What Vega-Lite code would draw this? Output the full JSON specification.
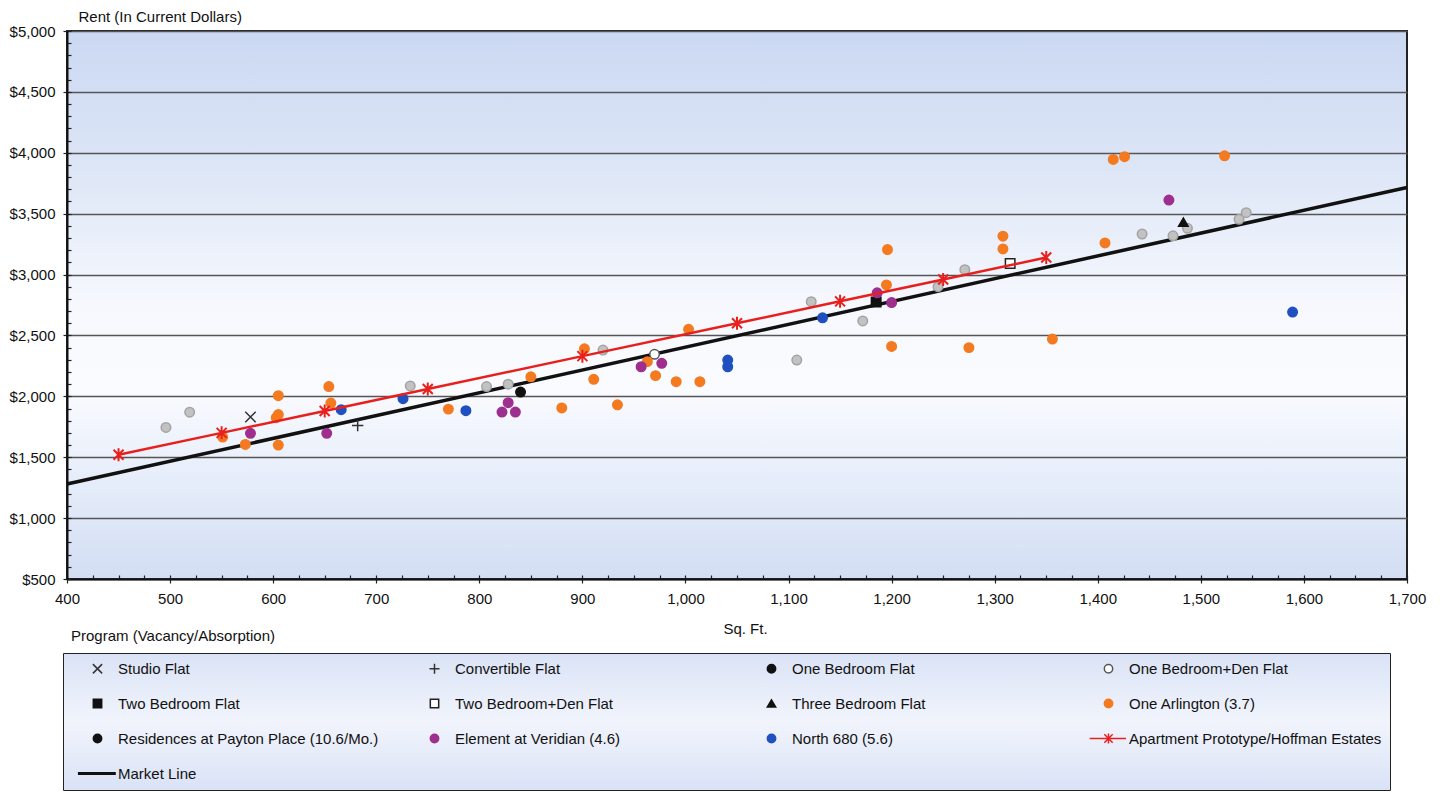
{
  "$schema": "https://vega.github.io/schema/vega-lite/v6.json",
  "width": 1340,
  "height": 548,
  "autosize": {"type": "none"},
  "padding": {"left": 67, "top": 31, "right": 36, "bottom": 213},
  "background": "white",
  "config": {
    "font": "Liberation Sans",
    "view": {
      "fill": {"gradient": "linear", "x1": 0, "y1": 0, "x2": 0, "y2": 1,
        "stops": [
          {"offset": 0, "color": "#cbd8f2"},
          {"offset": 0.25, "color": "#dde6f7"},
          {"offset": 0.5, "color": "#f6f8fd"},
          {"offset": 0.65, "color": "#fafbfe"},
          {"offset": 0.82, "color": "#e6edfa"},
          {"offset": 1, "color": "#d3def4"}
        ]},
      "stroke": "#222222",
      "strokeWidth": 2
    },
    "axis": {
      "labelFont": "Liberation Sans",
      "labelFontSize": 15,
      "labelFontWeight": "normal",
      "labelColor": "#111111",
      "labelFlush": false,
      "titleFont": "Liberation Sans",
      "titleFontSize": 15,
      "titleFontWeight": "normal",
      "titleColor": "#111111",
      "domainColor": "#111111",
      "domainWidth": 2,
      "tickColor": "#222222",
      "tickWidth": 1.2
    },
    "legend": {
      "orient": "none", "legendX": -4, "legendY": 622,
      "direction": "horizontal",
      "columns": 4, "gridAlign": "all",
      "columnPadding": 29, "rowPadding": 18, "padding": 8,
      "symbolSize": 70, "symbolStrokeWidth": 1.5,
      "symbolOffset": 19, "labelOffset": 13,
      "labelFont": "Liberation Sans", "labelFontSize": 15, "labelColor": "#111111", "labelLimit": 400,
      "titleFont": "Liberation Sans", "titleFontSize": 15, "titleFontWeight": "normal", "titleColor": "#111111",
      "titleBaseline": "line-bottom", "titleLineHeight": 48,
      "titlePadding": -15, "titleLimit": 400,
      "strokeColor": "#222222",
      "fillColor": {"value": {"gradient": "linear", "x1": 0, "y1": 0, "x2": 0, "y2": 1,
        "stops": [{"offset": 0, "color": "#dae3f6"}, {"offset": 0.5, "color": "#f1f4fc"}, {"offset": 1, "color": "#d9e2f6"}]}}
    }
  },
  "datasets": {
    "points": [
      {"series": "Studio Flat", "sqft": 578, "rent": 1830},
      {"series": "Convertible Flat", "sqft": 682, "rent": 1760},
      {"series": "One Bedroom Flat", "sqft": 840, "rent": 2035},
      {"series": "One Bedroom+Den Flat", "sqft": 970, "rent": 2345},
      {"series": "Two Bedroom Flat", "sqft": 1185, "rent": 2775},
      {"series": "Two Bedroom+Den Flat", "sqft": 1315, "rent": 3090},
      {"series": "Three Bedroom Flat", "sqft": 1483, "rent": 3430},
      {"series": "One Arlington (3.7)", "sqft": 605, "rent": 2005},
      {"series": "One Arlington (3.7)", "sqft": 654, "rent": 2080},
      {"series": "One Arlington (3.7)", "sqft": 656, "rent": 1945},
      {"series": "One Arlington (3.7)", "sqft": 605, "rent": 1850},
      {"series": "One Arlington (3.7)", "sqft": 603, "rent": 1825},
      {"series": "One Arlington (3.7)", "sqft": 551, "rent": 1665},
      {"series": "One Arlington (3.7)", "sqft": 573, "rent": 1605},
      {"series": "One Arlington (3.7)", "sqft": 605, "rent": 1600},
      {"series": "One Arlington (3.7)", "sqft": 770, "rent": 1895},
      {"series": "One Arlington (3.7)", "sqft": 850, "rent": 2160},
      {"series": "One Arlington (3.7)", "sqft": 880, "rent": 1905},
      {"series": "One Arlington (3.7)", "sqft": 902, "rent": 2390},
      {"series": "One Arlington (3.7)", "sqft": 911, "rent": 2140},
      {"series": "One Arlington (3.7)", "sqft": 934, "rent": 1930},
      {"series": "One Arlington (3.7)", "sqft": 963, "rent": 2285},
      {"series": "One Arlington (3.7)", "sqft": 971, "rent": 2170},
      {"series": "One Arlington (3.7)", "sqft": 991, "rent": 2120},
      {"series": "One Arlington (3.7)", "sqft": 1014, "rent": 2120},
      {"series": "One Arlington (3.7)", "sqft": 1003, "rent": 2550},
      {"series": "One Arlington (3.7)", "sqft": 1200, "rent": 2410},
      {"series": "One Arlington (3.7)", "sqft": 1275, "rent": 2400},
      {"series": "One Arlington (3.7)", "sqft": 1196, "rent": 3205},
      {"series": "One Arlington (3.7)", "sqft": 1195, "rent": 2915},
      {"series": "One Arlington (3.7)", "sqft": 1308, "rent": 3315},
      {"series": "One Arlington (3.7)", "sqft": 1308, "rent": 3210},
      {"series": "One Arlington (3.7)", "sqft": 1407, "rent": 3260},
      {"series": "One Arlington (3.7)", "sqft": 1415, "rent": 3945},
      {"series": "One Arlington (3.7)", "sqft": 1426, "rent": 3968},
      {"series": "One Arlington (3.7)", "sqft": 1523, "rent": 3975},
      {"series": "One Arlington (3.7)", "sqft": 1356, "rent": 2470},
      {"series": "Residences at Payton Place (10.6/Mo.)", "sqft": 496, "rent": 1745},
      {"series": "Residences at Payton Place (10.6/Mo.)", "sqft": 519, "rent": 1870},
      {"series": "Residences at Payton Place (10.6/Mo.)", "sqft": 733, "rent": 2085},
      {"series": "Residences at Payton Place (10.6/Mo.)", "sqft": 807, "rent": 2080},
      {"series": "Residences at Payton Place (10.6/Mo.)", "sqft": 828, "rent": 2100},
      {"series": "Residences at Payton Place (10.6/Mo.)", "sqft": 920, "rent": 2380},
      {"series": "Residences at Payton Place (10.6/Mo.)", "sqft": 1122, "rent": 2777},
      {"series": "Residences at Payton Place (10.6/Mo.)", "sqft": 1108, "rent": 2298},
      {"series": "Residences at Payton Place (10.6/Mo.)", "sqft": 1172, "rent": 2619},
      {"series": "Residences at Payton Place (10.6/Mo.)", "sqft": 1245, "rent": 2900},
      {"series": "Residences at Payton Place (10.6/Mo.)", "sqft": 1271, "rent": 3040},
      {"series": "Residences at Payton Place (10.6/Mo.)", "sqft": 1443, "rent": 3333},
      {"series": "Residences at Payton Place (10.6/Mo.)", "sqft": 1473, "rent": 3318},
      {"series": "Residences at Payton Place (10.6/Mo.)", "sqft": 1487, "rent": 3380},
      {"series": "Residences at Payton Place (10.6/Mo.)", "sqft": 1537, "rent": 3454},
      {"series": "Residences at Payton Place (10.6/Mo.)", "sqft": 1544, "rent": 3508},
      {"series": "Element at Veridian (4.6)", "sqft": 578, "rent": 1696},
      {"series": "Element at Veridian (4.6)", "sqft": 652, "rent": 1696},
      {"series": "Element at Veridian (4.6)", "sqft": 828, "rent": 1948},
      {"series": "Element at Veridian (4.6)", "sqft": 822, "rent": 1871},
      {"series": "Element at Veridian (4.6)", "sqft": 835, "rent": 1871},
      {"series": "Element at Veridian (4.6)", "sqft": 957, "rent": 2243},
      {"series": "Element at Veridian (4.6)", "sqft": 977, "rent": 2271},
      {"series": "Element at Veridian (4.6)", "sqft": 1186, "rent": 2850},
      {"series": "Element at Veridian (4.6)", "sqft": 1200, "rent": 2770},
      {"series": "Element at Veridian (4.6)", "sqft": 1469, "rent": 3612},
      {"series": "North 680 (5.6)", "sqft": 666, "rent": 1890},
      {"series": "North 680 (5.6)", "sqft": 726, "rent": 1981},
      {"series": "North 680 (5.6)", "sqft": 787, "rent": 1882},
      {"series": "North 680 (5.6)", "sqft": 1041, "rent": 2298},
      {"series": "North 680 (5.6)", "sqft": 1041, "rent": 2243},
      {"series": "North 680 (5.6)", "sqft": 1133, "rent": 2645},
      {"series": "North 680 (5.6)", "sqft": 1589, "rent": 2692},
      {"series": "Apartment Prototype/Hoffman Estates", "sqft": 450, "rent": 1520},
      {"series": "Apartment Prototype/Hoffman Estates", "sqft": 550, "rent": 1700},
      {"series": "Apartment Prototype/Hoffman Estates", "sqft": 650, "rent": 1880},
      {"series": "Apartment Prototype/Hoffman Estates", "sqft": 750, "rent": 2060},
      {"series": "Apartment Prototype/Hoffman Estates", "sqft": 900, "rent": 2330},
      {"series": "Apartment Prototype/Hoffman Estates", "sqft": 1050, "rent": 2600},
      {"series": "Apartment Prototype/Hoffman Estates", "sqft": 1150, "rent": 2780},
      {"series": "Apartment Prototype/Hoffman Estates", "sqft": 1250, "rent": 2960},
      {"series": "Apartment Prototype/Hoffman Estates", "sqft": 1350, "rent": 3140}
    ],
    "market": [
      {"sqft": 400, "rent": 1280},
      {"sqft": 1700, "rent": 3715}
    ]
  },
  "encoding": {
    "x": {
      "field": "sqft", "type": "quantitative",
      "scale": {"domain": [400, 1700], "nice": false, "zero": false},
      "axis": null
    },
    "y": {
      "field": "rent", "type": "quantitative",
      "scale": {"domain": [500, 5000], "nice": false, "zero": false},
      "axis": null
    }
  },
  "layer": [
    {
      "data": {"name": "market"},
      "mark": {"type": "line", "color": "#111111", "strokeWidth": 3.5},
      "encoding": {
        "x": {
          "field": "sqft", "type": "quantitative",
          "scale": {"domain": [400, 1700], "nice": false, "zero": false},
          "axis": {
            "orient": "bottom",
            "values": [400, 425, 450, 475, 500, 525, 550, 575, 600, 625, 650, 675, 700, 725, 750, 775, 800, 825, 850, 875, 900, 925, 950, 975, 1000, 1025, 1050, 1075, 1100, 1125, 1150, 1175, 1200, 1225, 1250, 1275, 1300, 1325, 1350, 1375, 1400, 1425, 1450, 1475, 1500, 1525, 1550, 1575, 1600, 1625, 1650, 1675, 1700],
            "labels": false, "domain": false, "grid": false, "tickSize": -4, "title": null
          }
        },
        "y": {
          "field": "rent", "type": "quantitative",
          "scale": {"domain": [500, 5000], "nice": false, "zero": false},
          "axis": {
            "orient": "left",
            "values": [500, 600, 700, 800, 900, 1000, 1100, 1200, 1300, 1400, 1500, 1600, 1700, 1800, 1900, 2000, 2100, 2200, 2300, 2400, 2500, 2600, 2700, 2800, 2900, 3000, 3100, 3200, 3300, 3400, 3500, 3600, 3700, 3800, 3900, 4000, 4100, 4200, 4300, 4400, 4500, 4600, 4700, 4800, 4900, 5000],
            "labels": false, "domain": false, "grid": false, "tickSize": -4, "title": null
          }
        }
      }
    },
    {
      "data": {"name": "points"},
      "transform": [{"filter": "datum.series === 'Residences at Payton Place (10.6/Mo.)'"}],
      "mark": {"type": "point", "shape": "circle", "filled": true, "opacity": 1, "size": 90, "strokeWidth": 1.5, "fill": "#c2c2c2", "stroke": "#a3a3a3"},
      "encoding": {}
    },
    {
      "data": {"name": "points"},
      "transform": [{"filter": "datum.series !== 'Residences at Payton Place (10.6/Mo.)' && datum.series !== 'Apartment Prototype/Hoffman Estates'"}],
      "mark": {"type": "point", "filled": true, "opacity": 1, "size": 90, "strokeWidth": 1.5},
      "encoding": {
        "x": {
          "field": "sqft", "type": "quantitative",
          "scale": {"domain": [400, 1700], "nice": false, "zero": false},
          "axis": {
            "orient": "bottom",
            "values": [400, 500, 600, 700, 800, 900, 1000, 1100, 1200, 1300, 1400, 1500, 1600, 1700],
            "format": ",d", "grid": false, "tickSize": 4, "labelPadding": 8,
            "labelFontWeight": "normal", "titleFontWeight": "normal",
            "title": "Sq. Ft.", "titleX": 678, "titleY": 49, "titleBaseline": "middle", "titleAlign": "center"
          }
        },
        "y": {
          "field": "rent", "type": "quantitative",
          "scale": {"domain": [500, 5000], "nice": false, "zero": false},
          "axis": {
            "orient": "left",
            "values": [500, 1000, 1500, 2000, 2500, 3000, 3500, 4000, 4500, 5000],
            "format": "$,d", "grid": true, "gridColor": "#555555", "gridWidth": 1.6,
            "tickSize": 4, "labelPadding": 8,
            "labelFontWeight": "normal", "titleFontWeight": "normal",
            "title": "Rent (In Current Dollars)", "titleAngle": 0, "titleAlign": "left",
            "titleBaseline": "middle", "titleX": 11, "titleY": -15
          }
        },
        "fill": {
          "field": "series", "type": "nominal",
          "scale": {
            "domain": ["Studio Flat", "Convertible Flat", "One Bedroom Flat", "One Bedroom+Den Flat", "Two Bedroom Flat", "Two Bedroom+Den Flat", "Three Bedroom Flat", "One Arlington (3.7)", "Residences at Payton Place (10.6/Mo.)", "Element at Veridian (4.6)", "North 680 (5.6)", "Apartment Prototype/Hoffman Estates", "Market Line"],
            "range": ["transparent", "transparent", "#111111", "#ffffff", "#111111", "#ffffff", "#111111", "#f47a20", "#111111", "#9e2f8e", "#2050c0", "#e8201d", "#111111"]
          },
          "legend": {"title": "Program (Vacancy/Absorption)"}
        },
        "stroke": {
          "field": "series", "type": "nominal",
          "scale": {
            "domain": ["Studio Flat", "Convertible Flat", "One Bedroom Flat", "One Bedroom+Den Flat", "Two Bedroom Flat", "Two Bedroom+Den Flat", "Three Bedroom Flat", "One Arlington (3.7)", "Residences at Payton Place (10.6/Mo.)", "Element at Veridian (4.6)", "North 680 (5.6)", "Apartment Prototype/Hoffman Estates", "Market Line"],
            "range": ["#333333", "#333333", "#111111", "#555555", "#111111", "#222222", "#111111", "#f47a20", "#111111", "#9e2f8e", "#2050c0", "#e8201d", "#111111"]
          },
          "legend": {"title": "Program (Vacancy/Absorption)"}
        },
        "shape": {
          "field": "series", "type": "nominal",
          "scale": {
            "domain": ["Studio Flat", "Convertible Flat", "One Bedroom Flat", "One Bedroom+Den Flat", "Two Bedroom Flat", "Two Bedroom+Den Flat", "Three Bedroom Flat", "One Arlington (3.7)", "Residences at Payton Place (10.6/Mo.)", "Element at Veridian (4.6)", "North 680 (5.6)", "Apartment Prototype/Hoffman Estates", "Market Line"],
            "range": ["M-1.1,-1.1L1.1,1.1M-1.1,1.1L1.1,-1.1", "M-1.2,0L1.2,0M0,-1.2L0,1.2", "circle", "circle", "square", "square", "triangle-up", "circle", "circle", "circle", "circle", "M-4.5,0L4.2,0M-1,-1L1,1M-1,1L1,-1M0,-1.2L0,1.2", "M-4.5,-0.15L4.2,-0.15L4.2,0.15L-4.5,0.15Z"]
          },
          "legend": {"title": "Program (Vacancy/Absorption)"}
        }
      }
    },
    {
      "data": {"name": "points"},
      "transform": [{"filter": "datum.series === 'Apartment Prototype/Hoffman Estates'"}],
      "mark": {"type": "line", "color": "#e8201d", "strokeWidth": 2.5},
      "encoding": {}
    },
    {
      "data": {"name": "points"},
      "transform": [{"filter": "datum.series === 'Apartment Prototype/Hoffman Estates'"}],
      "mark": {"type": "point", "shape": "M-1,-1L1,1M-1,1L1,-1M0,-1.3L0,1.3", "filled": false, "opacity": 1, "size": 100, "strokeWidth": 2, "color": "#e8201d"},
      "encoding": {}
    }
  ],
  "resolve": {"axis": {"x": "independent", "y": "independent"}}
}
